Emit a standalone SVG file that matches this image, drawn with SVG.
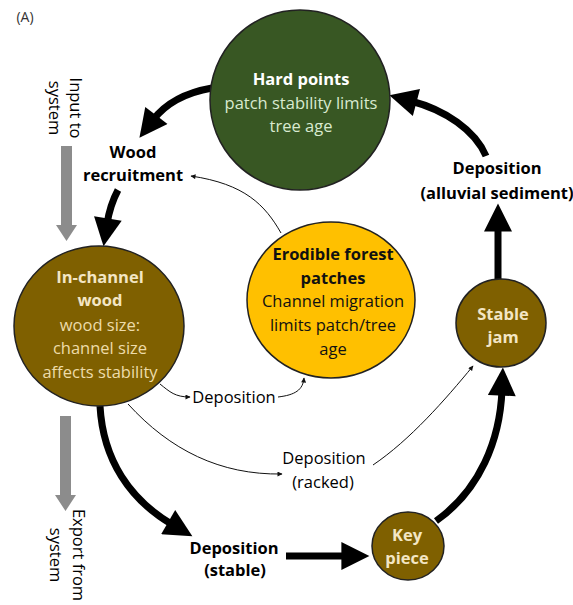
<svg xmlns="http://www.w3.org/2000/svg" width="573" height="605" viewBox="0 0 573 605">
<defs>
<style>
text{font-family:"Open Sans","Liberation Sans",sans-serif;font-size:16.5px;text-anchor:middle}
.b{font-weight:bold}
.node{stroke:#222;stroke-width:1.5}
.thick{fill:none;stroke:#000;stroke-width:7}
.thin{fill:none;stroke:#111;stroke-width:1}
.gray{fill:#8c8c8c}
</style>
<marker id="big" viewBox="0 0 10 10" refX="2" refY="5" markerWidth="4.2" markerHeight="4" orient="auto" markerUnits="strokeWidth"><path d="M0,0 L10,5 L0,10 z" fill="#000"/></marker>
<marker id="small" viewBox="0 0 10 10" refX="9" refY="5" markerWidth="6" markerHeight="5" orient="auto" markerUnits="userSpaceOnUse"><path d="M0,0 L10,5 L0,10 z" fill="#111"/></marker>
</defs>
<rect width="573" height="605" fill="#fff"/>
<text x="25" y="22" style="font-size:14px;fill:#333">(A)</text>

<g id="connectors">
<path class="thick" d="M212,88 Q172,95 153,120" marker-end="url(#big)"/>
<path class="thick" d="M118,190 Q110,205 107,224" marker-end="url(#big)"/>
<path class="thick" d="M100,406 C103,460 130,500 173,525" marker-end="url(#big)"/>
<path class="thick" d="M286,556 L347,556" marker-end="url(#big)"/>
<path class="thick" d="M436,521 C480,490 500,440 502,390" marker-end="url(#big)"/>
<path class="thick" d="M498,279 L498,226" marker-end="url(#big)"/>
<path class="thick" d="M486,156 C475,130 445,110 411,101" marker-end="url(#big)"/>
<path class="thin" d="M281,233 C265,205 245,184 191,176" marker-end="url(#small)"/>
<path class="thin" d="M160,384 C170,392 175,397 190,397" marker-end="url(#small)"/>
<path class="thin" d="M278,397 C295,395 303,390 304,378" marker-end="url(#small)"/>
<path class="thin" d="M128,404 C170,450 220,475 282,474" marker-end="url(#small)"/>
<path class="thin" d="M373,465 C410,440 445,400 473,366" marker-end="url(#small)"/>
<polygon class="gray" points="61,146 72,146 72,225 77,225 66.5,241 56,225 61,225"/>
<polygon class="gray" points="60,416 71,416 71,495 76,495 65.5,511 55,495 60,495"/>
</g>

<g id="hard-points">
<circle class="node" cx="300" cy="100" r="90" fill="#385723"/>
<text x="301" y="85" class="b" fill="#fff">Hard points</text>
<text x="301" y="109" fill="#d9ead0">patch stability limits</text>
<text x="301" y="132" fill="#d9ead0">tree age</text>
</g>

<g id="in-channel-wood">
<ellipse class="node" cx="99" cy="326" rx="85" ry="80" fill="#7f6000"/>
<text x="100" y="283" class="b" fill="#f3e6c4">In-channel</text>
<text x="100" y="306" class="b" fill="#f3e6c4">wood</text>
<text x="100" y="331" fill="#eddcaa">wood size:</text>
<text x="100" y="354" fill="#eddcaa">channel size</text>
<text x="100" y="378" fill="#eddcaa">affects stability</text>
</g>

<g id="erodible-forest">
<ellipse class="node" cx="331" cy="300" rx="84" ry="78" fill="#ffc000"/>
<text x="333" y="260" class="b" fill="#111">Erodible forest</text>
<text x="333" y="284" class="b" fill="#111">patches</text>
<text x="333" y="307" fill="#111">Channel migration</text>
<text x="333" y="331" fill="#111">limits patch/tree</text>
<text x="333" y="355" fill="#111">age</text>
</g>

<g id="stable-jam">
<ellipse class="node" cx="501" cy="323" rx="45" ry="44" fill="#7f6000"/>
<text x="503" y="320" class="b" fill="#f3e6c4">Stable</text>
<text x="503" y="343" class="b" fill="#f3e6c4">jam</text>
</g>

<g id="key-piece">
<ellipse class="node" cx="408" cy="546" rx="36" ry="34" fill="#7f6000"/>
<text x="407" y="541" class="b" fill="#f3e6c4">Key</text>
<text x="407" y="564" class="b" fill="#f3e6c4">piece</text>
</g>

<g id="wood-recruitment">
<text x="133" y="158" class="b">Wood</text>
<text x="133" y="181" class="b">recruitment</text>
</g>

<g id="deposition-alluvial">
<text x="497" y="174" class="b">Deposition</text>
<text x="497" y="199" class="b">(alluvial sediment)</text>
</g>

<g id="deposition-stable">
<text x="234" y="554" class="b">Deposition</text>
<text x="235" y="576" class="b">(stable)</text>
</g>

<g id="deposition">
<text x="234" y="403">Deposition</text>
</g>

<g id="deposition-racked">
<text x="324" y="464">Deposition</text>
<text x="323" y="488">(racked)</text>
</g>

<g id="input-to-system">
<text transform="translate(70,108) rotate(90)">Input to</text>
<text transform="translate(49,108) rotate(90)">system</text>
</g>

<g id="export-from-system">
<text transform="translate(73,555) rotate(90)">Export from</text>
<text transform="translate(50,555) rotate(90)">system</text>
</g>
</svg>
